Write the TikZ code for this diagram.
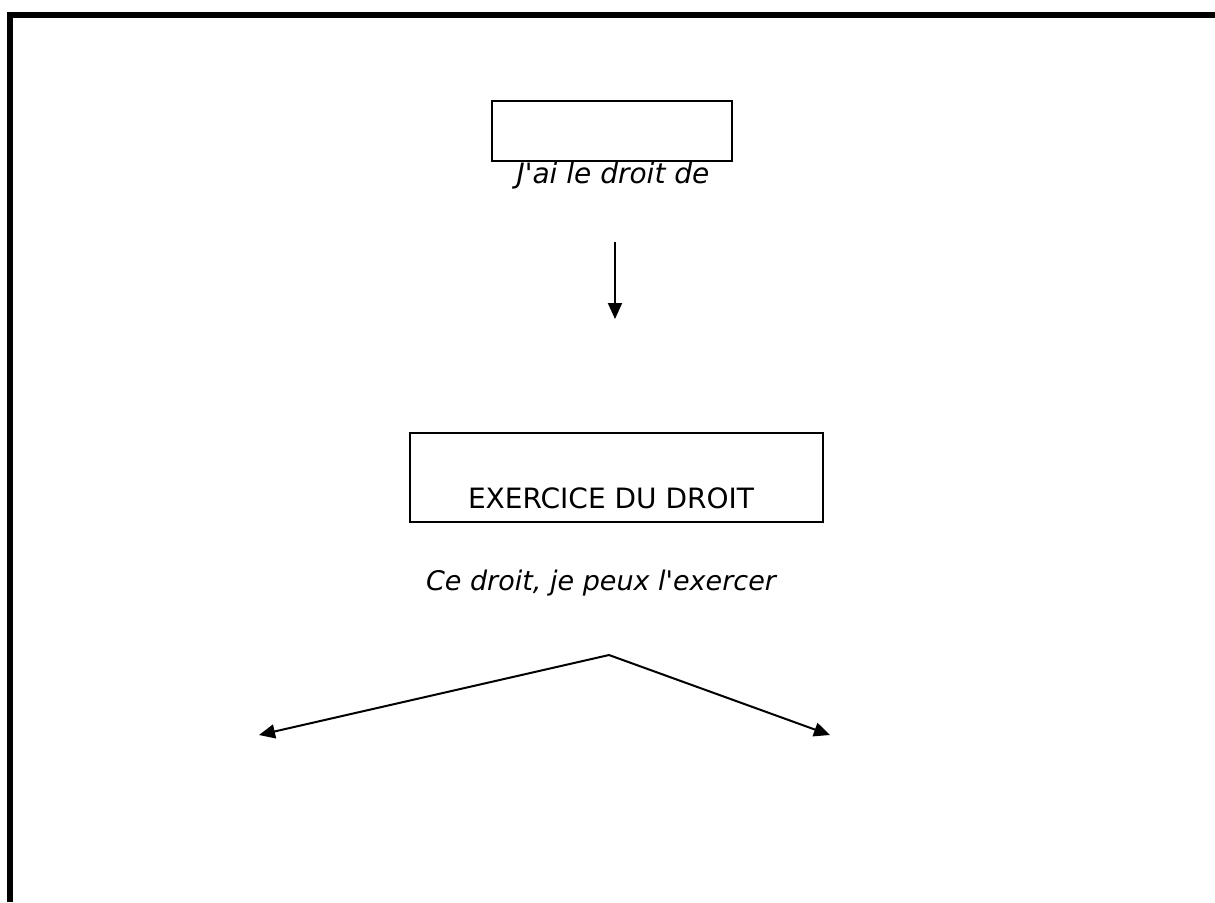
\documentclass[tikz,border=0pt]{standalone}
\usepackage{fontspec}
\setmainfont{DejaVu Sans}
\usetikzlibrary{arrows.meta}

\begin{document}
\begin{tikzpicture}[x=.5pt,y=-.5pt,
    boite/.style={draw,line width=.75pt,inner sep=0pt},
    fleche/.style={line width=1pt,-{Triangle[length=8pt,width=7pt]}},
    texte/.style={anchor=base,inner sep=0pt,font=\fontsize{14}{16}\selectfont}]
        \useasboundingbox (0,0) rectangle (1215,902);
        % cadre
        \draw[line width=3pt] (10,902) -- (10,15) -- (1215,15);

        \node[boite,minimum width=120pt,minimum height=30pt] (droit) at (612,131) {};
        \node[texte,font=\fontsize{14}{16}\selectfont\itshape] (droitde) at (613,183) {J\textquotesingle ai le droit de};

        \coordinate (haut) at (615,242);
        \coordinate (bas) at (615,319);
        \draw[fleche] (haut) -- (bas);

        \node[boite,minimum width=206.5pt,minimum height=44.5pt] (exercice) at (616.5,477.5) {};
        \node[texte] (extexte) at (611,508) {EXERCICE DU DROIT};
        \node[texte,font=\fontsize{13.5}{16}\selectfont\itshape] (exercer) at (601,590) {Ce droit, je peux l\textquotesingle exercer};

        \coordinate (sommet) at (609,655);
        \coordinate (gauche) at (259,735);
        \coordinate (droite) at (830,735);
        \foreach \bout in {gauche,droite}
          \draw[fleche] (sommet) -- (\bout);
\end{tikzpicture}
\end{document}
